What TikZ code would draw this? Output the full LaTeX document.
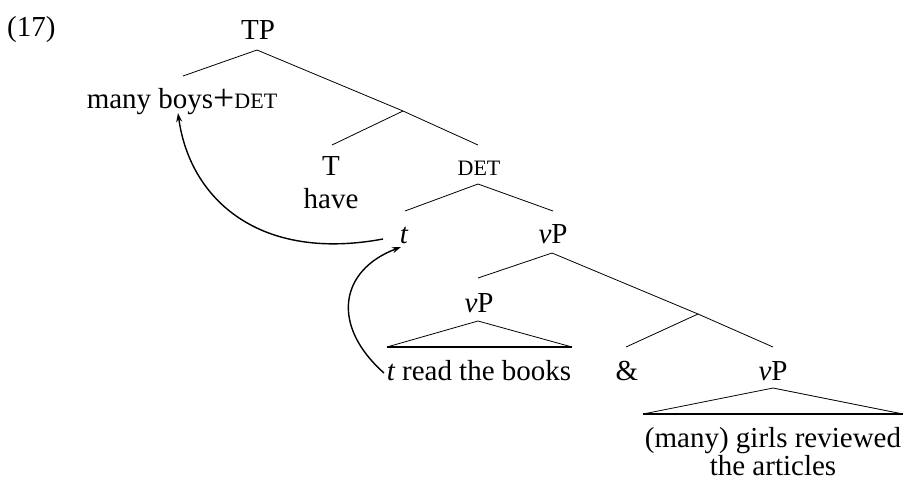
\documentclass[tikz,border=0pt]{standalone}
\usepackage{fontspec}
\setmainfont{Liberation Serif}
\usetikzlibrary{arrows.meta}
\newcommand{\smc}[1]{{\fontsize{22}{24}\selectfont #1}}
\newcommand{\bigplus}{\raisebox{-2pt}{\scalebox{1.3}[1.3]{+}}}
\begin{document}
\begin{tikzpicture}[x=1pt,y=-1pt,
  lbl/.style={inner sep=0pt,anchor=base,font=\fontsize{29}{32}\selectfont},
  branch/.style={line width=0.8pt},
  mv/.style={line width=1.4pt,-{Stealth[length=9pt,width=6pt]}}]
\useasboundingbox (0,0) rectangle (906,483);

% labels
\node[lbl,anchor=base west] (ex) at (7,36) {(17)};
\node[lbl] (tp) at (258,39) {TP};
\node[lbl] (spec) at (182,108) {many boys\bigplus\smc{DET}};
\node[lbl] (tt) at (331,175) {T};
\node[lbl] (have) at (331,208) {have};
\node[lbl] (det) at (479,175) {\smc{DET}};
\node[lbl] (tr) at (404,243) {\itshape t};
\node[lbl] (vp) at (553,243) {{\itshape v}P};
\node[lbl] (vpa) at (479,312) {{\itshape v}P};
\node[lbl] (vpatxt) at (479,380) {{\itshape t} read the books};
\node[lbl] (amp) at (627,380) {\&};
\node[lbl] (vpb) at (773,380) {{\itshape v}P};
\node[lbl] (vpbtxt) at (773,447) {(many) girls reviewed};
\node[lbl] (vpbtxt2) at (773,475) {the articles};

% branch points
\coordinate (tpA) at (257,50);
\coordinate (tpL) at (183,76);
\coordinate (tpM) at (403,111);
\coordinate (tpR) at (478,145);
\coordinate (tL) at (332,145);
\coordinate (detA) at (478,184);
\coordinate (detL) at (405,211);
\coordinate (detR) at (553,211);
\coordinate (vpA) at (552,253);
\coordinate (vpL) at (478,278);
\coordinate (vpM) at (698,314);
\coordinate (vpR) at (773,347);
\coordinate (ampT) at (626,347);
\coordinate (triaA) at (478,321);
\coordinate (triaL) at (387,347);
\coordinate (triaR) at (572,347);
\coordinate (tribA) at (773,388);
\coordinate (tribL) at (643,414);
\coordinate (tribR) at (903,414);

% tree branches
\draw[branch] (tpL) -- (tpA) -- (tpM) -- (tpR);
\draw[branch] (tpM) -- (tL);
\draw[branch] (detL) -- (detA) -- (detR);
\draw[branch] (vpL) -- (vpA) -- (vpM) -- (vpR);
\draw[branch] (vpM) -- (ampT);
\draw[branch] (triaL) -- (triaA) -- (triaR);
\draw[line width=1.4pt] (triaL) -- (triaR);
\draw[branch] (tribL) -- (tribA) -- (tribR);
\draw[line width=1.4pt] (tribL) -- (tribR);

% movement arrows
\coordinate (m1s) at (383,239);
\coordinate (m1e) at (178,113);
\coordinate (m2s) at (384,373);
\coordinate (m2e) at (401,247);
\draw[mv] (m1s) .. controls (260,262) and (190,200) .. (m1e);
\draw[mv] (m2s) .. controls (330,325) and (340,270) .. (m2e);
\end{tikzpicture}
\end{document}
